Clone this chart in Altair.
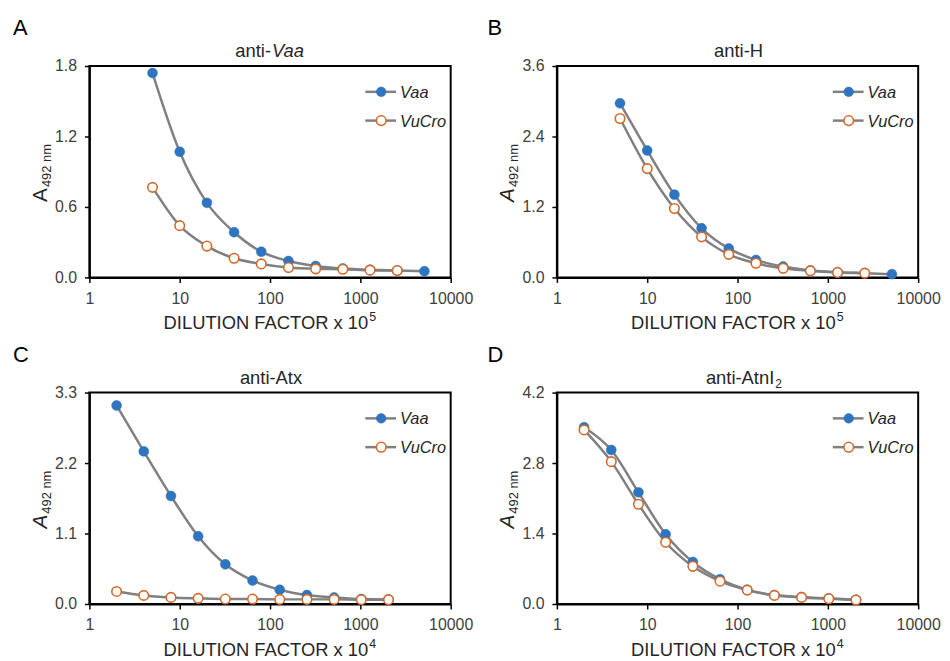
import altair as alt
import pandas as pd

FONT = "Liberation Sans"
BLUE = "#2f74bf"
ORANGE = "#d4692a"
GRAY = "#808080"
W, H = 364, 213

# ---- data ----
dil_A = [5, 10, 20, 40, 80, 160, 320, 640, 1280, 2560, 5120]
vaa_A = [1.74, 1.07, 0.635, 0.385, 0.219, 0.14, 0.098, 0.076, 0.065, 0.059, 0.053]
vucro_A = [0.767, 0.441, 0.267, 0.163, 0.115, 0.084, 0.073, 0.07, 0.062, 0.059]

dil_B = [5, 10, 20, 40, 80, 160, 320, 640, 1280, 2560, 5120]
vaa_B = [2.965, 2.162, 1.41, 0.837, 0.494, 0.298, 0.185, 0.118, 0.09, 0.073, 0.056]
vucro_B = [2.707, 1.853, 1.174, 0.691, 0.393, 0.241, 0.157, 0.112, 0.084, 0.073]

dil_C = [2, 4, 8, 16, 32, 64, 128, 256, 512, 1024, 2048]
vaa_C = [3.099, 2.382, 1.686, 1.057, 0.619, 0.366, 0.222, 0.139, 0.103, 0.077, 0.072]
vucro_C = [0.196, 0.134, 0.103, 0.088, 0.077, 0.077, 0.072, 0.072, 0.072, 0.067, 0.067]

dil_D = [2, 4, 8, 16, 32, 64, 128, 256, 512, 1024, 2048]
vaa_D = [3.511, 3.058, 2.218, 1.385, 0.833, 0.492, 0.282, 0.177, 0.138, 0.112, 0.085]
vucro_D = [3.458, 2.828, 1.982, 1.227, 0.748, 0.453, 0.276, 0.171, 0.131, 0.105, 0.079]

x_ticks = [1, 10, 100, 1000, 10000]
y_ticks_A = [0, 0.6, 1.2, 1.8]
y_ticks_B = [0, 1.2, 2.4, 3.6]
y_ticks_C = [0, 1.1, 2.2, 3.3]
y_ticks_D = [0, 1.4, 2.8, 4.2]

ONE = pd.DataFrame({"k": [0]})
TXT = "#262626"


def txt(s, x, y, size, align="left", italic=False, angle=0, color=TXT):
    return alt.Chart(ONE).mark_text(
        text=s, align=align, baseline="alphabetic", fontSize=size, font=FONT,
        fontStyle="italic" if italic else "normal", angle=angle, color=color
    ).encode(x=alt.value(x), y=alt.value(y))


def panel(letter, title_layers, xs_vaa, vaa, xs_vu, vu, yticks, exp, letter_x, a_italic):
    df_vaa = pd.DataFrame({"d": xs_vaa, "A": vaa, "s": "Vaa"})
    df_vu = pd.DataFrame({"d": xs_vu, "A": vu, "s": "VuCro"})
    df = pd.concat([df_vaa, df_vu], ignore_index=True)
    x = alt.X("d:Q", scale=alt.Scale(type="log", domain=[1, 10000]),
              axis=alt.Axis(values=x_ticks, format="d", labelFlush=False, labelOverlap=False,
                            labelFont=FONT, labelFontSize=16, labelColor="#404040",
                            labelPadding=8, title=None))
    y = alt.Y("A:Q", scale=alt.Scale(domain=[yticks[0], yticks[-1]], nice=False, zero=True),
              axis=alt.Axis(values=yticks, format=".1f", title=None, labelOverlap=False,
                            labelFont=FONT, labelFontSize=16, labelColor="#404040",
                            labelPadding=8))
    lines = alt.Chart(df).mark_line(color=GRAY, strokeWidth=2.5, interpolate="monotone").encode(
        x=x, y=y, detail="s:N")
    p1 = alt.Chart(df_vaa).mark_point(shape="circle", filled=True, fill=BLUE, stroke=BLUE,
                                      strokeWidth=0.5, size=100, opacity=1).encode(x=x, y=y)
    p2 = alt.Chart(df_vu).mark_point(shape="circle", filled=True, fill="white", stroke=ORANGE,
                                     strokeWidth=1.6, size=92, opacity=1).encode(x=x, y=y)
    # legend
    leg = []
    for yy, fill, stroke, label in [(26, BLUE, BLUE, "Vaa"), (55, "white", ORANGE, "VuCro")]:
        leg.append(alt.Chart(ONE).mark_rule(color=GRAY, strokeWidth=2.5).encode(
            x=alt.value(278), x2=alt.value(309), y=alt.value(yy)))
        leg.append(alt.Chart(ONE).mark_point(shape="circle", filled=True, fill=fill, stroke=stroke,
                                             strokeWidth=1.6 if fill == "white" else 0.5,
                                             size=95, opacity=1).encode(
            x=alt.value(294), y=alt.value(yy)))
        leg.append(txt(label, 313, yy + 6, 16.5, italic=True))
    # y title  A_492 nm
    ytitle = [
        txt("A", -43, 137, 21, angle=270, italic=a_italic),
        txt("492 nm", -39, 122, 13, angle=270),
    ]
    # x title  DILUTION FACTOR x 10^exp
    xtitle = [
        txt("DILUTION FACTOR x 10", 281, H + 52, 18.5, align="right"),
        txt(exp, 282, H + 44, 12.5),
    ]
    letter_t = txt(letter, letter_x, -31, 22, color="#000000")
    layers = [lines, p1, p2] + leg + ytitle + xtitle + [letter_t] + title_layers
    return alt.layer(*layers).properties(width=W, height=H)


title_A = [txt("anti-", 183, -9, 18.5, align="right"),
           txt("Vaa", 184, -9, 18.5, italic=True)]
title_B = [txt("anti-H", 183, -9, 18.5, align="center")]
title_C = [txt("anti-Atx", 183, -9, 18.5, align="center")]
title_D = [txt("anti-AtnI", 219, -9, 18.5, align="right"),
           txt("2", 220, -5, 12)]

pA = panel("A", title_A, dil_A, vaa_A, dil_A[:10], vucro_A, y_ticks_A, "5", -77, False)
pB = panel("B", title_B, dil_B, vaa_B, dil_B[:10], vucro_B, y_ticks_B, "5", -70, True)
pC = panel("C", title_C, dil_C, vaa_C, dil_C, vucro_C, y_ticks_C, "4", -77, True)
pD = panel("D", title_D, dil_D, vaa_D, dil_D, vucro_D, y_ticks_D, "4", -70, True)

chart = alt.concat(pA, pB, pC, pD, columns=2, spacing={"row": 116, "column": 107},
                   bounds="flush").properties(
    padding={"left": 4, "top": 6, "right": 0, "bottom": 0}
).configure_view(
    stroke="black", strokeWidth=2
).configure_axis(
    domainColor="black", domainWidth=2, tickColor="black", tickWidth=1.5, tickSize=5,
    grid=False
)

chart.save("out.html", embed_options={"renderer": "svg", "actions": False})
